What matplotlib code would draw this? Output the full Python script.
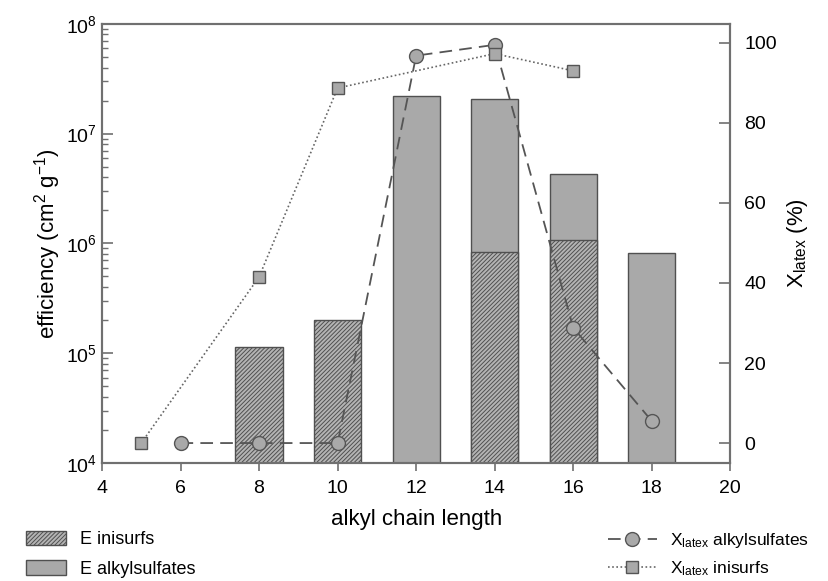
import matplotlib.pyplot as plt

plt.rcParams['font.family'] = ['Liberation Sans', 'DejaVu Sans']
plt.rcParams['mathtext.fontset'] = 'custom'
plt.rcParams['mathtext.rm'] = 'Liberation Sans'
plt.rcParams['mathtext.it'] = 'Liberation Sans:italic'
plt.rcParams['axes.unicode_minus'] = False
plt.rcParams['hatch.linewidth'] = 0.7
plt.rcParams['hatch.color'] = '#333333'

# efficiency bars (cm^2 g^-1)
chain_alkyl = [12, 14, 16, 18]
eff_alkyl = [2.22e7, 2.06e7, 4.3e6, 8.1e5]
chain_ini = [8, 10, 14, 16]
eff_ini = [1.14e5, 2.0e5, 8.4e5, 1.08e6]

# X_latex (%)
x_alkyl = [6, 8, 10, 12, 14, 16, 18]
xl_alkyl = [0, 0, 0, 96.8, 99.5, 28.8, 5.5]
x_ini = [5, 8, 10, 14, 16]
xl_ini = [0, 41.5, 88.7, 97.3, 93.0]

grey = '#a9a9a9'
edge = '#505050'
spine = '#707070'

fig = plt.figure(figsize=(8.29, 5.81), dpi=100)
ax = fig.add_axes([0.123, 0.203, 0.758, 0.756])

b_alk = ax.bar(chain_alkyl, eff_alkyl, width=1.2, color=grey, edgecolor=edge,
               linewidth=1.0, bottom=1e4, zorder=2)
b_ini = ax.bar(chain_ini, [v - 1e4 for v in eff_ini], width=1.2, color='#b4b4b4',
               edgecolor=edge, linewidth=1.0, hatch='////////', bottom=1e4, zorder=3)
ax.set_yscale('log')
ax.set_ylim(1e4, 1e8)
ax.set_xlim(4, 20)
ax.set_xticks(range(4, 21, 2))

ax2 = ax.twinx()
l_alk, = ax2.plot(x_alkyl, xl_alkyl, linestyle=(0, (7, 4)), color='#555555', lw=1.3,
                  marker='o', markersize=10, markerfacecolor=grey,
                  markeredgecolor='#555555', markeredgewidth=1.0, zorder=4)
l_ini, = ax2.plot(x_ini, xl_ini, linestyle=(0, (1, 1.5)), color='#666666', lw=1.2,
                  marker='s', markersize=9, markerfacecolor=grey,
                  markeredgecolor='#555555', markeredgewidth=1.0, zorder=4)
ax2.set_ylim(-5, 104.75)
ax2.set_yticks(range(0, 101, 20))

for a in (ax, ax2):
    for s in a.spines.values():
        s.set_color(spine)
        s.set_linewidth(1.5)

ax.tick_params(axis='y', which='major', direction='in', length=8, width=1.2,
               color=spine, labelsize=14)
ax.tick_params(axis='y', which='minor', direction='in', length=4, width=1.0,
               color=spine)
ax.tick_params(axis='x', direction='out', length=6, width=1.2, color=spine,
               labelsize=14, pad=6)
ax2.tick_params(axis='y', direction='in', length=8, width=1.2, color=spine,
                labelsize=14, pad=10)

ax.set_xlabel('alkyl chain length', fontsize=16, labelpad=9)
ax.set_ylabel(r'efficiency (cm$^\mathregular{2}$ g$^\mathregular{-1}$)', fontsize=16, labelpad=2)
ax2.set_ylabel(r'X$_\mathregular{latex}$ (%)', fontsize=16, labelpad=6)

fig.legend([b_ini, b_alk], ['E inisurfs', 'E alkylsulfates'], loc='center left',
           bbox_to_anchor=(0.012, 0.046), frameon=False, fontsize=13,
           handlelength=2.2, handleheight=0.85, labelspacing=0.65, handletextpad=0.8)
fig.legend([l_alk, l_ini], [r'X$_\mathregular{latex}$ alkylsulfates', r'X$_\mathregular{latex}$ inisurfs'],
           loc='center left', bbox_to_anchor=(0.725, 0.046), frameon=False, fontsize=12.5,
           handlelength=2.8, labelspacing=0.55, handletextpad=0.8, borderaxespad=0.0)

fig.savefig('out.png', dpi=100)
